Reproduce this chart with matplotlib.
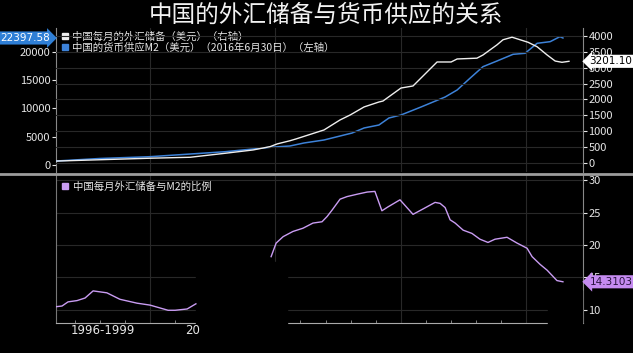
import matplotlib
matplotlib.use('Agg')
import matplotlib.pyplot as plt
import matplotlib.patches as mpatches
from matplotlib.lines import Line2D
import matplotlib.transforms as mtrans
import numpy as np

plt.rcParams['font.family'] = ['Noto Sans CJK SC', 'DejaVu Sans']

# M2, USD bn (left axis)
m2_years = [1996.25, 1998.0, 2000.0, 2003.0, 2004.79, 2005.58, 2006.14, 2006.94,
            2008.06, 2008.54, 2009.13, 2009.53, 2010.01, 2010.81, 2011.77, 2012.25,
            2012.76, 2013.28, 2013.84, 2014.48, 2014.96, 2015.44, 2015.96, 2016.35,
            2016.47]
m2_vals = [700, 1150, 1465, 2345, 3120, 3350, 3880, 4410,
           5640, 6530, 7050, 8290, 8820, 10230, 11990, 13230,
           15290, 17340, 18340, 19520, 19700, 21460, 21750, 22630,
           22397.58]

# FX reserves, USD bn (right axis)
fx_years = [1996.25, 2000.0, 2001.6, 2002.99, 2004.11, 2004.79, 2005.07, 2005.58,
            2005.82, 2006.94, 2007.58, 2007.98, 2008.54, 2009.13, 2009.29, 2010.01,
            2010.49, 2011.45, 2012.01, 2012.25, 2013.04, 2013.28, 2013.56, 2013.84,
            2014.08, 2014.44, 2014.76, 2015.08, 2015.44, 2015.84, 2016.16, 2016.43,
            2016.71]
fx_vals = [60, 150, 180, 305, 410, 515, 600, 700,
           756, 1040, 1355, 1510, 1765, 1920, 1950, 2360,
           2425, 3180, 3180, 3275, 3300, 3400, 3560, 3720,
           3880, 3960, 3880, 3800, 3660, 3400, 3210, 3170,
           3201.10]

# reserves / M2 ratio, % (gap where the source is blank)
ratio_years = [1996.25, 1996.49, 1996.73, 1997.09, 1997.41, 1997.73, 1998.28, 1998.80,
               1999.48, 2000.0, 2000.72, 2001.0, 2001.48, 2001.83, np.nan,
               2004.83, 2005.03, 2005.31, 2005.70, 2006.10, 2006.50, 2006.86, 2007.06,
               2007.26, 2007.58, 2007.86, 2008.30, 2008.66, 2008.97, 2009.25, 2009.49,
               2009.97, 2010.49, 2010.85, 2011.37, 2011.57, 2011.77, 2011.97, 2012.17,
               2012.49, 2012.84, 2013.16, 2013.48, 2013.76, 2014.24, 2014.64, 2015.04,
               2015.24, 2015.56, 2015.84, 2016.23, 2016.47]
ratio_vals = [10.45, 10.56, 11.2, 11.4, 11.8, 12.9, 12.6, 11.6,
              11.0, 10.7, 9.9, 9.9, 10.1, 10.9, np.nan,
              18.2, 20.3, 21.3, 22.1, 22.6, 23.4, 23.6, 24.4,
              25.4, 27.1, 27.5, 27.9, 28.2, 28.3, 25.3, 25.9,
              27.0, 24.75, 25.5, 26.6, 26.45, 25.8, 23.9, 23.4,
              22.3, 21.8, 20.9, 20.4, 20.9, 21.2, 20.3, 19.5,
              18.2, 17.0, 16.1, 14.5, 14.3103]

bg = 'black'
fg = '#e6e6e6'
grid_c = '#282828'
blue = '#3d82d8'
white = '#eeeeee'
purple = '#c99cf2'

fig = plt.figure(figsize=(6.33, 3.53), dpi=100, facecolor=bg)
W, H = 633, 353

def box(l, t, r, b):
    return [l / W, 1 - b / H, (r - l) / W, (b - t) / H]

xmin, xmax = 1996.25, 2017.27

# ---- top panel
ax1 = fig.add_axes(box(56, 28, 583, 172))
ax1.set_facecolor(bg)
ax1r = ax1.twinx()
ax1.plot(m2_years, m2_vals, color=blue, lw=1.1, zorder=3)
ax1r.plot(fx_years, fx_vals, color=white, lw=1.0, zorder=3)
ax1.set_xlim(xmin, xmax)
ax1.set_ylim(-1235, 24160)
ax1r.set_ylim(-284, 4250)
ax1.set_yticks([0, 5000, 10000, 15000, 20000])
ax1r.set_yticks(range(0, 4001, 500))
ax1.set_xticks([2000, 2005, 2010, 2015])
ax1.tick_params(axis='x', length=0, labelbottom=False)
ax1.xaxis.grid(True, color=grid_c, lw=0.8)
ax1r.yaxis.grid(True, color=grid_c, lw=0.8)
ax1r.set_axisbelow(True)
for a in (ax1, ax1r):
    a.tick_params(axis='y', colors=fg, labelsize=8, length=3, width=0.8, pad=1)
    for s in a.spines.values():
        s.set_visible(False)
ax1.spines['left'].set_visible(True)
ax1.spines['left'].set_color('#888888')
ax1r.spines['right'].set_visible(True)
ax1r.spines['right'].set_color('#888888')

handles = [Line2D([], [], ls='none', marker='s', ms=4.5, color=white),
           Line2D([], [], ls='none', marker='s', ms=4.5, color=blue)]
leg = ax1.legend(handles, ['中国每月的外汇储备（美元）（右轴）',
                           '中国的货币供应M2（美元）（2016年6月30日）（左轴）'],
                 loc='upper left', bbox_to_anchor=(0.0, 1.02), frameon=False,
                 fontsize=7.5, handlelength=0.6, handletextpad=0.3,
                 labelspacing=0.1, borderaxespad=0.2, labelcolor=fg)

# value tags
tl = mtrans.blended_transform_factory(fig.transFigure, ax1.transData)
ax1.text(25 / W, m2_vals[-1], f'{m2_vals[-1]:.2f}', transform=tl, ha='center',
         va='center', fontsize=7.5, color='white', family='DejaVu Sans',
         bbox=dict(boxstyle='rarrow,pad=0.15', fc='#2f7fd6', ec='none'))
tr = mtrans.blended_transform_factory(ax1r.transAxes, ax1r.transData)
ax1r.text(1.012, fx_vals[-1], f'{fx_vals[-1]:.2f}', transform=tr, ha='left',
          va='center', fontsize=7.5, color='black', family='DejaVu Sans',
          bbox=dict(boxstyle='larrow,pad=0.15', fc='white', ec='none'))

# separator
fig.add_artist(Line2D([0, 1], [1 - 173.5 / H] * 2, transform=fig.transFigure,
                      color='#9c9c9c', lw=2))

# ---- bottom panel
ax2 = fig.add_axes(box(56, 175, 583, 323))
ax2.set_facecolor(bg)
ax2.plot(ratio_years, ratio_vals, color=purple, lw=1.0, zorder=4)
ax2.set_xlim(xmin, xmax)
ax2.set_ylim(7.93, 30.84)
ax2.yaxis.tick_right()
ax2.set_yticks([10, 15, 20, 25, 30])
ax2.set_xticks([2000, 2005, 2010, 2015])
ax2.set_xticks(range(1997, 2017), minor=True)
ax2.tick_params(axis='x', which='major', length=0, labelbottom=False)
ax2.tick_params(axis='x', which='minor', length=2, direction='in', color='#999999')
ax2.tick_params(axis='y', colors=fg, labelsize=8, length=3, width=0.8, pad=1)
ax2.grid(True, which='major', color=grid_c, lw=0.8)
ax2.spines['top'].set_visible(False)
ax2.spines['left'].set_color('#777777')
ax2.spines['right'].set_color('#888888')
ax2.spines['bottom'].set_color('#aaaaaa')

# blank patches in source image
ax2.add_patch(mpatches.Rectangle((2001.85, 5), 3.6, 12.4, color=bg, zorder=3,
                                 clip_on=False))
ax2.add_patch(mpatches.Rectangle((2015.86, 5), 1.38, 8.0, color=bg, zorder=3,
                                 clip_on=False))

ax2.text(1998.1, 6.7, '1996-1999', ha='center', va='center', fontsize=8.5, color=fg,
         family='DejaVu Sans')
ax2.text(2001.4, 6.7, '20', ha='left', va='center', fontsize=8.5, color=fg,
         family='DejaVu Sans')

h2 = [Line2D([], [], ls='none', marker='s', ms=4.5, color=purple)]
ax2.legend(h2, ['中国每月外汇储备与M2的比例'], loc='upper left', frameon=False,
           fontsize=7.5, handlelength=0.6, handletextpad=0.4, borderaxespad=0.2,
           labelcolor=fg)

tr2 = mtrans.blended_transform_factory(ax2.transAxes, ax2.transData)
ax2.text(1.012, ratio_vals[-1], f'{ratio_vals[-1]:.4f}', transform=tr2, ha='left',
         va='center', fontsize=7.5, color='#2a1440', family='DejaVu Sans',
         bbox=dict(boxstyle='larrow,pad=0.15', fc='#c58bf0', ec='none'), zorder=5)

fig.text(0.515, 1 - 15 / H, '中国的外汇储备与货币供应的关系', ha='center', va='center',
         fontsize=17, color='#f2f2f2')

fig.savefig('out.png', dpi=100, facecolor=bg)
